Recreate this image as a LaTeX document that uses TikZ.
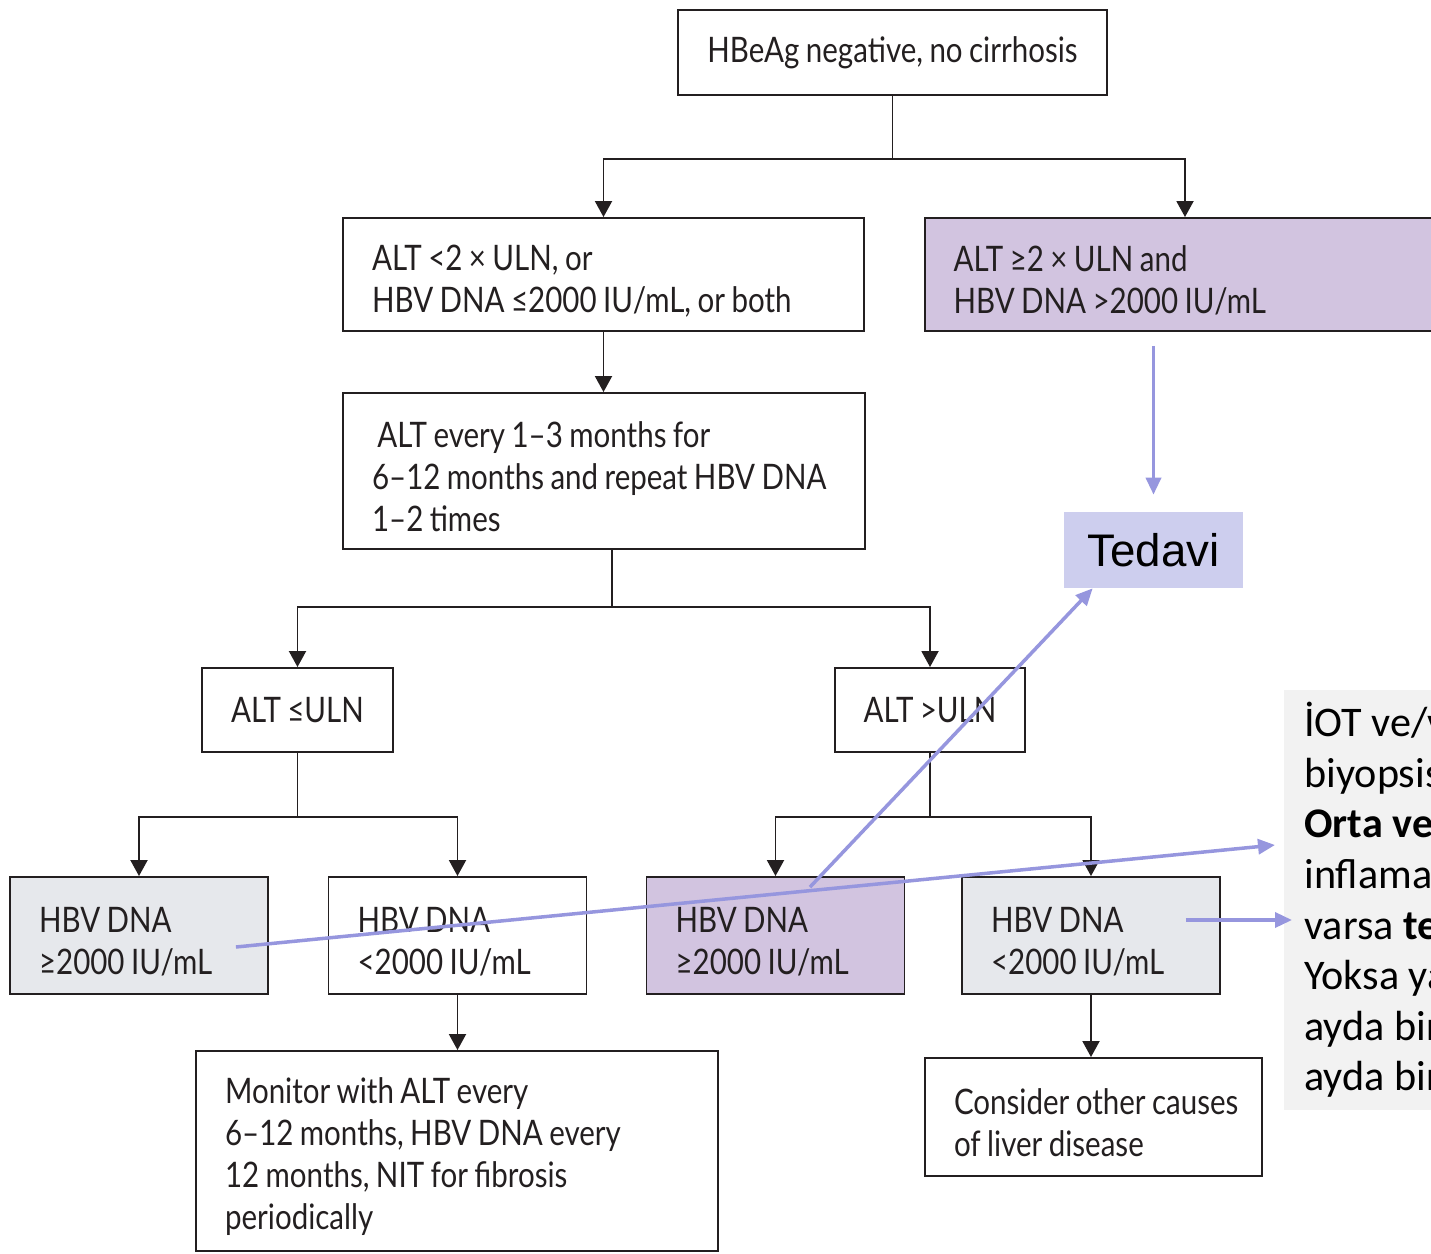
\documentclass[tikz,border=0pt]{standalone}
\usepackage{fontspec}
\setmainfont{Lato}[FakeStretch=0.84,WordSpace=0.85]
\newfontfamily\trfont{Carlito}
\newfontfamily\arialfont{Liberation Sans}
\usepackage{xcolor}
\definecolor{lilac}{RGB}{210,196,224}
\definecolor{paleg}{RGB}{230,232,236}
\definecolor{tedfill}{RGB}{205,206,238}
\definecolor{trgray}{RGB}{242,242,242}
\definecolor{linkblue}{RGB}{150,150,222}
\definecolor{inkdark}{RGB}{35,31,32}
\usetikzlibrary{positioning,arrows.meta,calc}
\newcommand{\boxfont}{\fontsize{20}{23.9}\selectfont}

\begin{document}
\begin{tikzpicture}[x=0.02cm,y=-0.02cm,
      box/.style={draw=inkdark,line width=1.1pt,inner xsep=0.58cm,inner ysep=0pt,align=flush left,font=\boxfont,text=inkdark},
      lower/.style={execute at begin node={\rule{0pt}{21.5pt}}},
      wide/.style={box,lower,text width=9.26cm,minimum height=2.26cm},
      dna/.style={box,lower,text width=4.0cm,minimum height=2.34cm},
      line/.style={inkdark,line width=1.1pt},
      arr/.style={line,-{Triangle[length=0.32cm,width=0.34cm]}},
      link/.style={linkblue,line width=2pt,-{Triangle[length=0.34cm,width=0.3cm]}}]
    \path[use as bounding box] (0,0) rectangle (1431,1254);
    \clip (0,0) rectangle (1431,1254);
    % top of the tree
    \node[box,align=center,minimum width=8.58cm,minimum height=1.7cm] (top) at (892.5,52.5) {HBeAg negative, no cirrhosis};
    \node[wide] (A) at (603.5,274.5) {ALT <2 × ULN, or\\HBV DNA ≤2000 IU/mL, or both};
    \node[wide,fill=lilac] (B) at (1185,274.5) {ALT ≥2 × ULN and\\HBV DNA >2000 IU/mL};
    \node[box,lower,text width=9.28cm,minimum height=3.12cm] (C) at (604,471) {\hspace{3pt}ALT every 1–3 months for\\6–12 months and repeat HBV DNA\\1–2 times};
    % ALT after follow-up
    \node[box,align=center,minimum width=3.78cm,minimum height=1.68cm] (L1) at (297.5,710) {ALT ≤ULN};
    \node[box,align=center,minimum width=3.76cm,minimum height=1.68cm] (R1) at (930,710) {ALT >ULN};
    % HBV DNA boxes
    \node[dna,fill=paleg] (H1) at (139,935.5) {HBV DNA\\≥2000 IU/mL};
    \node[dna] (H2) at (457.5,935.5) {HBV DNA\\<2000 IU/mL};
    \node[dna,fill=lilac] (H3) at (775.5,935.5) {HBV DNA\\≥2000 IU/mL};
    \node[dna,fill=paleg] (H4) at (1091,935.5) {HBV DNA\\<2000 IU/mL};
    % bottom row
    \node[box,lower,text width=9.28cm,minimum height=4.0cm] (M) at (457,1151) {Monitor with ALT every\\6–12 months, HBV DNA every\\12 months, NIT for fibrosis\\periodically};
    \node[box,lower,text width=5.58cm,minimum height=2.36cm] (K) at (1093.5,1117) {\mbox{Consider other causes}\\of liver disease};
    % added notes
    \node[fill=tedfill,minimum width=3.58cm,minimum height=1.52cm,font=\arialfont\fontsize{26}{30}\selectfont] (T) at (1153.5,550) {Tedavi};
    \node[fill=trgray,anchor=west,align=flush left,text width=6cm,inner xsep=0.4cm,minimum height=8.4cm,font=\trfont\fontsize{24}{28.8}\selectfont] (tr) at (1284,900)
      {İOT ve/v\\biyopsis\\\textbf{Orta ve}\\inflama\\varsa \textbf{te}\\Yoksa ya\\ayda bir\\ayda bir};
    % connections
    \draw[line] (top.south) -- ++(0,63) coordinate (s1);
    \draw[arr] (s1) -| (A.north);
    \draw[arr] (s1) -| (B.north);
    \draw[arr] (A.south) -- (A.south |- C.north);
    \draw[line] ($(C.south)+(8,0)$) -- ++(0,57) coordinate (s2);
    \draw[arr] (s2) -| (L1.north);
    \draw[arr] (s2) -| (R1.north);
    \draw[line] (L1.south) -- ++(0,64) coordinate (s3);
    \draw[arr] (s3) -| (H1.north);
    \draw[arr] (s3) -| (H2.north);
    \draw[line] (R1.south) -- ++(0,64) coordinate (s4);
    \draw[arr] (s4) -| (H3.north);
    \draw[arr] (s4) -| (H4.north);
    \draw[arr] (H2.south) -- (H2.south |- M.north);
    \draw[arr] (H4.south) -- (H4.south |- K.north);
    % blue links
    \draw[link] ($(T.north |- B.south)+(0,14)$) -- ($(T.north)+(0,-17)$);
    \draw[link] ($(H3.north)+(34.5,11)$) -- ($(T.south west)+(29,0)$);
    \draw[link] ($(H1.east)+(-33,11.5)$) -- ($(tr.west)+(-9,-55)$);
    \draw[link] ($(H4.east)+(-35,-15.5)$) -- ($(tr.west |- H4.east)+(8,-15.5)$);
  \end{tikzpicture}
\end{document}
